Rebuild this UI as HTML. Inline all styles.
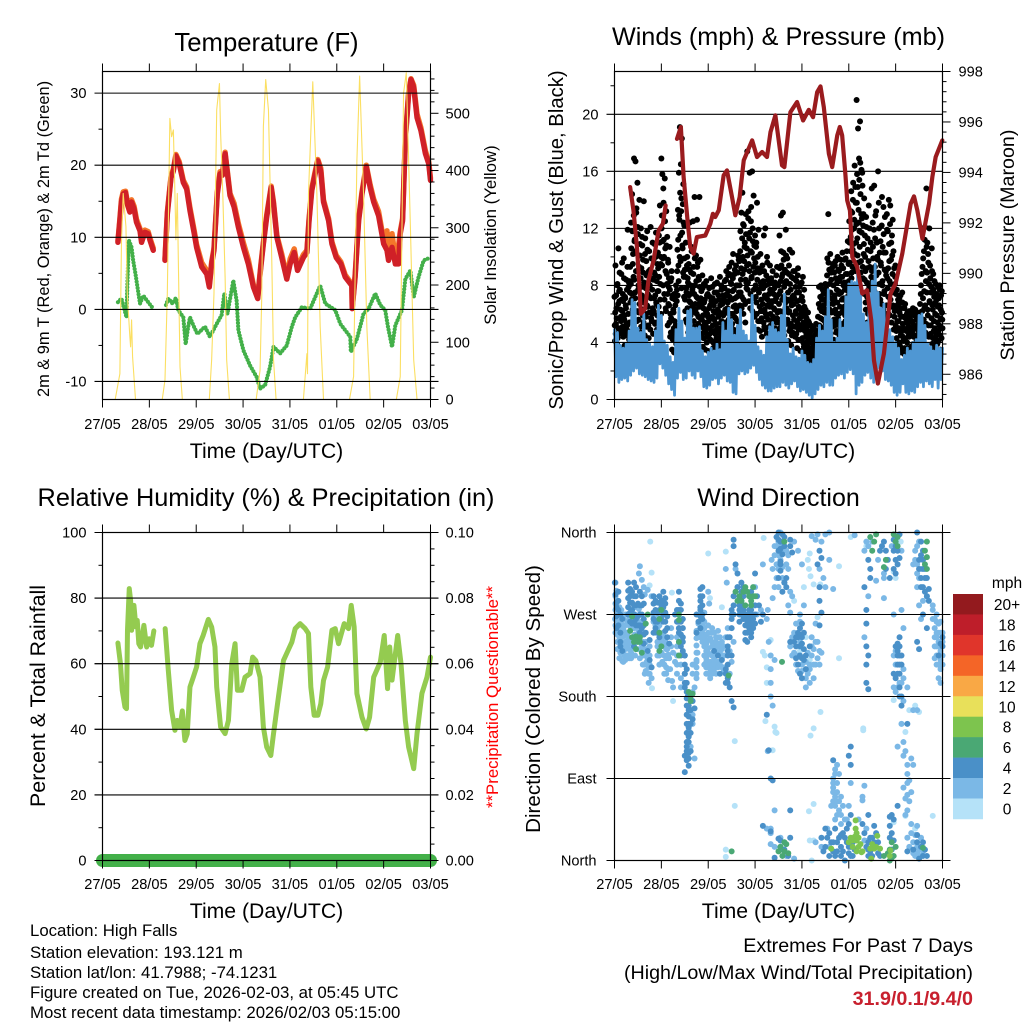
<!DOCTYPE html>
<html lang="en">
<head>
<meta charset="utf-8">
<title>Weather station meteogram</title>
<style>
html,body{margin:0;padding:0;background:#fff;width:1024px;height:1024px;overflow:hidden}
svg{display:block;font-family:"Liberation Sans",Arial,sans-serif;fill:#000}
</style>
</head>
<body>
<svg id="chart" xmlns="http://www.w3.org/2000/svg" width="1024" height="1024" viewBox="0 0 1024 1024">
<rect x="0" y="0" width="1024" height="1024" fill="#fff"/>
<g id="p1"></g>
<g id="p2"></g>
<g id="p3"></g>
<g id="p4"></g>
<g id="legend"></g>

<text x="266.5" y="51" font-size="25.7" text-anchor="middle">Temperature (F)</text>
<text x="778.5" y="45" font-size="25.2" text-anchor="middle">Winds (mph) &amp; Pressure (mb)</text>
<text x="266" y="506" font-size="25.3" text-anchor="middle">Relative Humidity (%) &amp; Precipitation (in)</text>
<text x="778.5" y="506" font-size="25" text-anchor="middle">Wind Direction</text>

<text x="266.5" y="458" font-size="21.2" text-anchor="middle">Time (Day/UTC)</text>
<text x="778.5" y="458" font-size="21.2" text-anchor="middle">Time (Day/UTC)</text>
<text x="266.5" y="918" font-size="21.2" text-anchor="middle">Time (Day/UTC)</text>
<text x="778.5" y="918" font-size="21.2" text-anchor="middle">Time (Day/UTC)</text>

<text transform="translate(49,239) rotate(-90)" font-size="16.4" text-anchor="middle">2m &amp; 9m T (Red, Orange) &amp; 2m Td (Green)</text>
<text transform="translate(496,235) rotate(-90)" font-size="16.8" text-anchor="middle">Solar Insolation (Yellow)</text>
<text transform="translate(563,240) rotate(-90)" font-size="20.3" text-anchor="middle">Sonic/Prop Wind &amp; Gust (Blue, Black)</text>
<text transform="translate(1014,245) rotate(-90)" font-size="19.7" text-anchor="middle">Station Pressure (Maroon)</text>
<text transform="translate(45,696) rotate(-90)" font-size="21.4" text-anchor="middle">Percent &amp; Total Rainfall</text>
<text transform="translate(498,697) rotate(-90)" font-size="16.8" text-anchor="middle" style="fill:#ff0000">**Precipitation Questionable**</text>
<text transform="translate(540,699) rotate(-90)" font-size="20.6" text-anchor="middle">Direction (Colored By Speed)</text>

<g font-size="16.8">
<text x="30" y="936">Location: High Falls</text>
<text x="30" y="958">Station elevation: 193.121 m</text>
<text x="30" y="978">Station lat/lon: 41.7988; -74.1231</text>
<text x="30" y="998">Figure created on Tue, 2026-02-03, at 05:45 UTC</text>
<text x="30" y="1018">Most recent data timestamp: 2026/02/03 05:15:00</text>
</g>
<g font-size="19.7" text-anchor="end">
<text x="973" y="952">Extremes For Past 7 Days</text>
<text x="973" y="979">(High/Low/Max Wind/Total Precipitation)</text>
<text x="973" y="1005" font-weight="bold" style="fill:#c8202e">31.9/0.1/9.4/0</text>
</g>
</svg>
<script>
// ---------- shared axis categories ----------
const dayLabels = ['27/05','28/05','29/05','30/05','31/05','01/05','02/05','03/05'];

// ---------- temperature panel ----------
const tempTicks = [30,20,10,0,-10];
const tempMinorTicks = [25,15,5,-5];
const solarTicks = [500,400,300,200,100,0];
const solarMinorTicks = [20,40,60,80,120,140,160,180,220,240,260,280,320,340,360,380,420,440,460,480,520,540,560];
const tempHours = [7.9,8.9,9.7,10.6,11.8,12.7,14,14.9,16.2,17.4,19.2,20,21.7,23.4,24.3,26,null,32,33.2,35.1,36.3,37.6,39.3,41.4,43.1,44.8,47,48.2,50.8,53.4,54.7,55.9,57.1,58.8,60.2,61.4,62.8,64,65.3,67.4,69.6,72.2,74.7,77.3,79.5,81.1,82.4,84.1,86.4,87.6,89.3,91.8,94.4,96.1,98.2,99.9,102.9,104.7,105.8,107.2,108.9,110.3,111.8,113.2,115.8,117.5,119.7,122.1,124.3,127.7,127.9,129.4,131.2,132.9,135.1,137.1,138.9,141.4,144,145.7,146.5,148.3,150,151.7,152.5,153.7,155.1,156.8,158,159.4,161.1,163.1,165.4,167.1,168];
const temp2m = [9.3,12.3,14.9,16,16.2,14.6,13.5,14.9,13.9,12.1,10.9,9.3,10.7,10.5,9.6,8.2,null,6.8,13.2,18.3,19.2,21.3,20.2,17.6,16.7,13.7,10.5,8.6,5.9,4.9,3.1,6.3,8.2,16,18.8,18.6,21.6,18.8,15.8,14.2,11.4,8.6,6.3,3.1,1.5,5.9,9.1,12.8,16.9,14.6,10,7.2,4.2,6.3,7.9,5.4,7.2,7.9,12.3,16.5,18.8,20.6,19.2,14.9,12.3,9.1,7.2,6.3,4.5,3.3,0.1,4.5,12.3,16,19.8,16.9,14.9,13,9.1,8.2,6.8,8.6,6.3,6.3,10.5,12.3,23.4,29.9,31.9,30.8,26.6,24.8,21.6,20.2,17.9];
const temp9m = [9.5,12.6,15.3,16.3,16.4,15,14.1,15.2,14.3,12.5,11.2,9.6,11,10.8,9.9,8.5,null,7,13.5,18.5,19.5,21.5,20.5,17.9,17,14.1,10.9,9,6.5,5.4,3.4,6.6,8.5,16.3,19.1,18.8,21.8,19.1,16.1,14.7,11.9,9.2,6.9,3.4,1.7,6.2,9.3,13.1,17.1,14.9,10.3,7.7,4.5,7,8.4,5.9,7.6,8.2,12.6,16.8,19.1,20.8,19.6,15.2,12.6,9.4,7.5,6.6,4.8,3.5,0.2,4.8,12.6,16.3,20,17.3,15.3,13.6,9.6,10.9,7.5,10.5,7,9,10.8,12.6,23.7,30.1,32,31.1,27.1,25.2,22,20.5,18.2];
const dewHours = [7.9,9.7,11.1,12.3,12.7,13.5,14.9,15.7,16.9,18.3,19.2,20.9,23.4,26,null,32.5,33.7,35.9,37.6,38.8,41.4,42.6,43.9,44.8,46.5,48.6,52.5,55,58.5,61,62.4,64,67,68.7,69.6,72.2,75.6,79,80.7,83.3,85.8,87.6,91,94.4,97,98.7,102.1,106.4,111.5,114.1,119.2,121.8,126.9,127.2,130.3,133.7,136.3,139.7,142.3,144.8,146.2,148.3,150,153.4,155.1,157.7,159.4,161.9,164.5,168];
const dewPoint = [1,1.5,0.1,-1.1,3.1,9.6,8.6,6.8,4.9,2.4,0.8,1.9,1,0.1,null,0.6,1.5,0.8,1.6,-0.1,-1.1,-4.8,-2.4,-1.1,-2.2,-3.4,-2.4,-3.8,-2,-0.8,2.2,-0.6,4,1.2,-2.9,-5.7,-7.8,-9.4,-11,-10.5,-8,-5.2,-6.1,-5,-2.4,-1.1,0.3,0.1,3.3,0.8,-0.1,-2,-3.8,-5.9,-4.1,-0.6,0.1,2.2,0.6,-0.1,-2.4,-5.2,-2.2,-0.1,4.2,5.4,1.7,4.5,6.8,7.2];
const solarHours = [0,6.5,8.9,9.7,10.6,12,12.7,14,14.4,14.9,15.4,16.9,30.6,32,33.2,34.5,35.4,36.3,37.1,37.6,38.3,39.7,40.9,54.7,55.9,57.1,58.5,59.9,60.5,61.6,62.8,63.6,65,78.7,80.7,81.6,82.4,83.6,85,86.7,87.6,88.9,102.9,104.7,105,105.5,107.7,109.8,111.5,113.2,126.5,128.6,130.3,131.7,133.7,135.4,137.1,150.5,152.5,154.2,155.6,157.7,159.4,161.1,168];
const solarWatts = [0,0,45,273,360,302,185,110,92,139,75,0,0,34,185,491,459,471,360,279,360,57,0,0,69,185,506,552,465,360,214,69,0,0,51,185,477,559,506,244,69,0,0,80,45,360,555,360,127,0,0,40,418,565,360,127,0,0,40,535,571,302,69,0,0];

// ---------- winds panel ----------
const windTicks = [20,16,12,8,4,0];
const windMinorTicks = [22,18,14,10,6,2];
const pressureTicks = [998,996,994,992,990,988,986];
const pressureMinorTicks = [997.6,997.2,996.8,996.4,995.6,995.2,994.8,994.4,993.6,993.2,992.8,992.4,991.6,991.2,990.8,990.4,989.6,989.2,988.8,988.4,987.6,987.2,986.8,986.4,985.6,985.2];
const pressureHours = [8,9.7,11.5,12.8,13.5,15.7,17.4,20,22.6,24.8,26.2,null,32,34,35.4,37.4,38.8,40.5,42.2,46.5,49.1,50.4,51.6,53.4,55.9,57.6,60.2,61.9,64.1,66.2,68.7,70.5,73,75.6,78.1,79.9,82.4,84.1,85.8,87,90.1,93.5,96.6,99.5,101.7,103.8,105.5,107.2,109.8,111.5,114.1,115.4,116.6,118.3,119.2,120.6,121.8,124.3,126.9,129.4,131.5,132.9,134.9,138,141.4,144,147.4,151.7,153.4,155.1,157.7,161.1,162.8,164.5,167.9];
const pressureValues = [993.42,992.5,991.04,989.46,988.4,988.6,989.72,990.51,991.7,991.97,992.69,null,995.33,995.8,993.82,992.1,991.04,990.78,991.44,991.5,991.97,992.36,992.23,992.5,993.88,994.08,993.02,992.3,993.02,994.48,994.94,995.27,994.61,994.81,994.61,995.6,996.26,995.27,994.28,994.21,996.39,996.79,996.06,996.48,996.19,997.18,997.41,996.59,994.74,994.21,995.47,995.8,995.47,993.88,992.89,992.49,990.65,990.25,989.2,989.33,988.14,986.55,985.63,986.82,989.2,989.6,990.78,992.76,993.05,992.5,991.37,992.76,993.82,994.61,995.27];
const gustStepHours = 0.25;
const gustValues = [
7.2,4.1,9.4,5.3,6.4,3.9,8.1,5.0,10.6,4.6,6.9,7.7,3.6,5.8,8.8,4.8,
6.2,7.4,4.4,9.9,5.6,3.8,7.1,6.6,8.4,4.9,5.2,11.9,6.0,7.9,4.2,8.3,
9.3,5.4,12.4,7.0,14.4,6.3,10.2,8.6,16.9,11.1,7.5,16.7,9.0,13.4,5.5,15.2,
11.6,8.0,6.1,14.0,10.1,4.7,12.0,9.2,7.3,10.8,5.9,8.9,13.9,6.8,4.5,11.3,
7.8,9.7,5.1,11.8,6.5,8.2,4.3,10.4,7.2,9.1,12.1,5.7,8.5,6.0,11.0,4.6,
9.8,7.1,10.9,5.3,8.7,11.7,6.7,4.9,9.5,10.3,7.6,11.5,5.6,13.6,8.1,10.0,
16.9,12.9,15.8,9.9,14.8,11.2,7.4,15.5,10.6,6.4,13.2,8.8,11.4,5.2,9.6,7.9,
6.6,10.7,4.4,8.3,5.7,9.0,3.5,7.3,4.8,6.1,3.3,5.5,7.0,4.2,8.0,5.0,
7.7,10.5,13.3,9.4,15.9,12.6,19.1,11.5,16.5,14.1,18.3,10.8,13.7,15.1,8.6,12.2,
9.1,6.2,11.0,7.8,5.4,10.0,8.5,4.7,9.5,6.9,12.4,7.4,5.9,8.9,10.4,6.5,
7.9,12.5,9.3,5.1,14.2,8.0,6.3,10.1,7.2,12.6,4.9,9.6,5.8,8.4,14.2,6.8,
9.8,4.4,7.6,5.6,8.7,3.7,6.4,8.1,4.9,7.0,3.5,5.2,8.3,4.0,6.0,7.4,
3.4,5.5,7.8,4.6,6.6,3.2,8.5,4.1,5.8,7.1,3.6,6.2,4.8,7.5,3.9,5.3,
6.9,4.3,8.2,5.0,3.6,7.3,4.7,6.1,8.6,3.8,5.4,7.7,4.4,6.7,3.4,5.9,
7.0,4.9,8.3,6.3,5.1,9.0,7.4,4.2,6.8,8.7,5.6,9.3,7.2,4.6,6.0,8.1,
9.6,5.3,7.6,10.2,6.5,4.5,8.8,7.1,5.7,9.4,6.2,4.0,8.0,10.1,5.0,7.5,
9.7,6.6,11.8,8.4,13.1,7.2,14.5,10.0,6.0,12.2,9.1,11.0,5.4,13.0,8.2,10.6,
17.4,7.7,12.7,9.5,11.3,15.9,6.4,10.4,13.5,8.6,16.0,12.0,7.1,14.3,9.9,5.8,
11.5,8.0,10.7,6.8,13.8,9.2,4.9,11.9,7.5,8.9,5.5,10.2,6.2,7.9,4.4,9.4,
6.7,8.3,11.5,5.1,7.3,12.0,6.0,8.7,4.6,9.6,7.0,5.6,8.1,3.9,6.5,7.7,
5.2,8.5,4.3,6.9,9.0,5.8,7.4,3.7,6.3,8.2,4.8,7.1,5.4,9.3,6.1,4.2,
8.0,6.7,11.5,5.0,7.6,12.9,9.4,8.6,5.7,13.1,10.3,7.2,4.5,9.1,6.4,11.9,
8.3,5.3,9.9,7.0,4.1,8.8,6.2,10.5,5.0,7.7,3.8,6.6,10.3,4.7,8.5,7.3,
5.6,9.0,4.4,7.9,6.0,8.3,3.6,6.9,9.2,4.9,7.5,5.2,8.0,3.4,6.3,5.8,
7.2,4.3,8.6,5.4,3.7,6.5,4.8,5.9,3.3,4.5,5.1,3.0,4.1,5.5,3.6,2.7,
4.7,3.2,5.2,2.5,4.0,3.5,5.0,2.2,4.4,3.0,4.9,2.0,3.7,5.3,2.8,4.2,
3.3,5.8,4.5,7.9,3.8,6.4,5.1,8.0,4.2,7.0,3.6,5.6,7.4,4.7,6.1,3.9,
8.1,5.3,6.8,4.4,9.9,7.5,13.0,5.0,9.1,6.3,10.2,4.6,8.4,7.1,5.5,9.5,
6.7,4.2,8.9,7.3,5.2,9.7,6.0,4.8,8.2,10.0,5.7,7.6,9.0,4.5,6.5,8.6,
5.1,9.4,7.0,10.3,6.2,8.0,4.9,9.8,7.7,5.5,8.8,6.6,10.4,7.2,11.1,5.9,
8.3,12.5,9.6,6.9,11.4,14.6,8.9,13.1,10.5,15.2,7.8,12.0,16.4,9.2,13.8,11.0,
21.0,15.8,10.1,19.0,13.3,16.9,11.8,19.5,14.4,9.7,16.1,12.7,15.0,8.5,13.0,10.9,
7.4,11.5,9.0,6.3,12.1,8.2,5.4,10.5,7.7,13.6,6.1,9.3,4.7,11.0,8.6,14.8,
6.9,12.4,9.9,5.8,15.0,8.0,11.3,7.1,13.2,6.4,10.0,5.0,16.0,8.9,12.0,7.4,
4.6,11.1,9.4,6.7,14.2,8.3,5.5,13.5,10.3,7.6,12.8,6.0,9.0,4.8,13.0,8.5,
11.8,7.2,14.0,9.7,5.9,13.6,8.1,11.0,6.5,10.1,12.6,7.7,4.9,9.2,6.2,8.6,
5.2,7.4,4.3,6.6,3.6,7.0,5.5,4.0,6.1,3.3,7.3,4.7,5.8,3.5,6.8,4.4,
5.0,3.2,6.4,4.2,5.7,2.9,4.8,6.0,3.6,5.3,2.7,4.5,6.2,3.4,5.6,3.0,
4.9,6.1,3.3,5.4,2.6,4.4,5.9,3.7,6.3,2.9,5.0,4.1,5.7,3.1,6.0,4.6,
3.5,5.2,6.7,4.3,8.0,5.6,3.8,9.3,7.1,5.0,10.4,6.4,12.1,4.7,8.3,14.8,
7.5,11.0,5.9,9.6,4.4,12.0,6.8,8.5,5.2,7.9,10.6,3.9,6.3,8.8,4.8,7.2,
3.6,6.0,8.1,4.5,7.0,3.2,5.4,7.9,4.1,6.6,8.0,3.5,5.7,7.3,4.3,6.1,
5.0];
const gustValuesMid = [
5.2,6.1,4.6,7.3,5.7,8.0,4.3,6.7,5.0,7.6,8.9,4.9,6.3,5.5,7.0,9.6,
5.1,6.9,4.7,8.5,5.9,7.2,4.5,6.4,5.3,7.7,9.3,4.8,6.0,8.2,5.4,7.5,
6.8,8.1,10.6,7.4,11.8,9.5,6.5,12.9,8.4,11.2,7.1,10.4,13.1,9.0,6.2,12.1,
7.7,5.6,9.3,6.7,10.9,8.5,5.1,7.9,11.4,6.3,9.8,5.4,8.2,7.0,10.2,6.0,
5.8,8.7,6.6,10.5,7.4,5.2,9.0,6.1,8.0,4.9,7.1,9.9,5.5,7.7,6.4,8.4,
6.2,8.9,5.4,7.3,10.0,6.8,8.3,5.9,7.6,9.2,6.5,8.6,11.0,7.0,9.5,6.0,
12.0,9.4,11.1,8.0,13.8,10.0,7.0,12.5,9.0,6.2,10.8,8.1,7.4,9.8,6.7,8.5,
5.4,7.7,6.0,4.7,8.5,5.6,7.1,4.2,6.3,5.0,7.4,4.5,6.6,5.2,3.9,6.9,
9.0,7.3,11.2,8.3,12.9,10.0,14.5,9.7,13.2,7.8,11.7,10.6,8.9,12.4,7.2,9.9,
7.0,8.6,5.6,7.5,9.4,6.4,8.2,5.2,7.3,9.1,5.9,6.8,8.0,10.7,6.1,7.7,
6.4,8.8,5.5,7.4,9.9,6.7,5.0,8.3,6.0,9.3,7.1,5.3,8.6,6.5,7.9,5.7,
7.1,5.1,6.5,4.6,7.8,5.9,4.3,6.8,5.4,8.0,4.7,6.2,5.0,7.3,4.4,5.8,
4.5,6.4,5.0,7.2,4.2,5.7,6.9,4.8,7.9,5.2,4.0,6.6,5.6,8.1,4.6,6.1,
5.3,7.5,4.7,6.3,5.8,4.1,7.0,5.0,6.6,4.4,8.0,5.5,6.9,4.9,7.3,5.1,
6.1,7.8,5.4,6.9,8.4,4.8,7.3,6.4,5.0,7.6,6.0,8.8,5.6,7.0,8.2,5.2,
7.0,6.0,8.5,4.9,7.7,5.8,9.1,6.6,4.7,8.0,7.2,5.5,8.9,6.3,9.8,5.4,
8.0,10.4,7.5,9.2,6.4,11.3,8.8,12.3,7.0,9.7,10.7,6.7,8.4,11.6,7.8,9.4,
10.1,8.2,13.2,6.9,9.0,11.7,7.4,12.5,8.5,10.3,6.2,11.1,9.3,7.7,10.8,8.9,
9.6,7.2,11.0,6.0,8.4,10.0,5.5,7.7,9.1,6.5,4.8,8.2,7.0,5.7,9.0,6.2,
7.8,5.4,9.0,6.3,4.9,8.0,7.1,5.8,10.0,6.6,8.4,4.6,7.4,5.1,9.4,6.0,
6.7,4.7,7.6,5.5,8.2,4.4,6.4,7.8,5.0,6.9,4.1,8.7,5.7,7.3,4.8,6.2,
5.4,7.4,9.2,6.2,8.3,10.4,5.1,7.0,8.8,6.0,9.8,7.9,5.6,8.1,6.8,10.1,
6.4,8.9,5.6,7.5,6.1,9.4,4.8,8.1,6.9,5.3,8.6,4.5,7.2,5.9,9.0,6.7,
7.1,5.1,8.4,6.2,4.6,7.5,5.4,8.7,4.2,6.5,7.9,5.7,4.9,7.0,6.0,8.2,
5.0,6.9,4.0,6.0,7.7,5.2,3.5,6.3,4.4,5.7,3.8,4.8,6.1,3.2,5.4,4.2,
3.6,4.4,3.0,4.8,3.4,4.1,2.6,3.8,5.0,3.2,4.5,2.9,4.0,3.5,4.7,3.1,
4.8,3.6,6.7,5.2,4.1,7.2,5.7,3.9,6.2,4.6,7.7,5.0,6.6,4.3,5.5,7.0,
6.3,7.8,4.9,8.7,5.8,7.2,9.6,6.7,8.1,5.4,7.5,8.9,6.1,9.2,5.1,7.0,
8.0,5.6,7.1,9.4,6.3,8.5,4.7,7.7,6.8,5.4,9.1,6.0,7.4,8.3,5.1,9.8,
7.5,6.1,8.6,5.3,9.2,7.1,6.5,8.2,5.9,9.9,6.9,8.0,5.0,8.8,7.6,9.5,
9.6,11.0,7.2,10.4,13.2,8.5,11.9,9.3,14.0,10.9,8.0,12.6,10.2,14.9,9.0,12.3,
13.8,11.3,14.9,9.6,12.4,15.4,10.7,16.6,8.9,13.0,11.7,15.9,9.3,12.2,10.2,14.1,
8.4,10.0,6.8,12.8,9.2,7.2,11.3,6.0,9.7,8.0,12.0,6.5,10.4,7.7,5.5,9.0,
8.3,10.7,6.3,11.9,7.6,9.3,12.9,5.6,8.7,11.0,6.7,9.8,7.1,13.8,8.1,10.3,
7.0,9.6,5.2,12.2,8.0,10.7,6.3,11.6,7.4,9.1,5.7,10.3,8.7,6.6,11.9,7.8,
9.2,6.0,10.9,8.3,12.3,7.0,9.8,5.4,11.5,8.8,6.6,10.4,7.5,5.8,8.1,9.4,
6.3,4.8,7.7,5.5,4.0,6.7,5.0,7.1,3.8,5.9,4.5,6.4,3.6,7.5,5.3,4.1,
4.3,5.8,3.6,6.7,4.9,3.1,5.4,4.0,6.1,3.4,5.1,4.4,3.0,5.9,4.7,3.7,
5.5,3.5,4.8,6.4,3.9,5.2,3.1,4.5,6.0,3.4,5.6,4.2,2.8,4.9,3.7,5.3,
4.6,6.1,3.9,7.4,5.0,8.8,6.2,4.4,9.9,5.6,7.6,11.2,6.6,9.0,5.3,10.7,
8.9,6.3,10.2,5.2,8.1,6.9,9.4,4.6,7.5,5.7,9.0,6.6,4.3,7.7,5.5,8.3,
5.0,6.8,4.2,7.4,5.9,3.9,6.5,4.8,7.1,5.2,7.7,4.5,6.3,5.0,7.6,5.6];
const sonicStepHours = 0.75;
const sonicValues = [
4.9,1.6,4.7,1.2,3.8,1.4,3.6,1.5,3.9,1.3,4.8,1.7,7.0,2.0,6.8,2.2,5.0,1.8,4.7,1.7,6.0,1.6,4.2,1.4,3.9,1.3,3.7,1.2,4.8,1.5,6.6,2.5,
5.9,2.2,4.1,1.7,3.8,1.1,3.0,0.7,2.6,0.3,4.9,1.5,6.4,1.9,5.5,1.4,4.3,1.5,6.2,2.0,6.3,1.7,5.0,1.5,5.0,2.0,5.1,1.6,3.4,0.9,3.0,0.8,
3.3,1.0,3.6,1.4,3.4,1.5,3.9,1.1,3.5,1.5,5.4,1.7,4.8,1.3,6.4,1.2,5.6,0.5,4.5,0.4,5.2,1.8,6.3,2.0,4.8,1.8,4.5,1.9,4.1,2.2,7.3,2.4,
5.2,1.9,3.7,1.4,3.4,1.0,3.1,0.8,4.4,0.6,5.1,0.6,5.4,0.8,4.9,0.9,4.7,0.9,5.9,1.2,7.4,1.0,4.2,0.8,3.2,1.1,3.6,1.3,3.0,0.9,2.9,0.6,
3.4,0.7,3.1,0.5,2.6,0.3,2.5,0.1,2.8,0.4,4.3,0.7,5.2,1.0,4.8,0.9,5.8,1.2,7.7,1.0,5.6,1.0,4.0,1.5,4.3,1.7,5.6,1.8,5.0,1.5,7.2,1.9,
8.1,2.1,8.3,1.8,8.2,0.4,9.0,1.0,7.6,1.2,6.0,1.7,5.4,1.9,7.4,1.5,8.3,1.2,9.5,2.0,7.5,2.2,6.4,2.0,6.7,1.4,5.1,1.3,4.9,1.0,4.4,0.5,
4.0,0.3,3.6,0.5,2.8,1.1,3.1,0.5,3.6,0.4,3.4,0.6,4.0,0.5,4.2,0.9,5.9,1.2,6.0,0.9,5.2,1.3,3.9,1.1,3.7,0.9,3.4,1.4,3.8,0.8,3.6,1.4,
3.6];

// ---------- humidity / precipitation panel ----------
const humidityTicks = [100,80,60,40,20,0];
const humidityGrid = [80,60,40,20];
const humidityMinorTicks = [90,70,50,30,10];
const precipTicks = ['0.10','0.08','0.06','0.04','0.02','0.00'];
const precipMinorTicks = [0.095,0.09,0.085,0.075,0.07,0.065,0.055,0.05,0.045,0.035,0.03,0.025,0.015,0.01,0.005];
const humidityHours = [7.9,9.2,10.1,11.5,12.3,12.8,13.7,14.4,14.9,16.1,17.1,17.8,18.6,19.5,21.2,22.6,23.9,25.1,26.3,null,32.1,33.7,35.4,37.1,38.3,39.7,40.9,42.2,43.4,44.8,46.5,48.2,49.9,51.6,54.2,55.9,57.6,58.5,60.5,62.8,64.5,66.2,67.9,69.1,71.3,73,75.6,76.9,78.5,80.7,82.4,84.1,86.2,87.6,90.1,92.7,94.7,97,98.7,101.2,103.8,105.5,106.7,108.4,110.3,111.8,113.2,115.3,117.5,119.2,120.9,123.8,126,127.4,128.9,130.3,132.9,135.1,136.8,138.9,142.3,144.3,146,147.1,148.3,151.2,152.9,155.1,156.8,159.4,161.1,163.6,166.2,168];
const humidityValues = [66.3,60,51.9,46.8,46.3,70.2,82.9,79.3,70.2,77.8,71.2,73.2,66.1,65.1,71.7,65.1,67.6,65.6,70,null,70.7,58,45.8,39.7,42.7,40.7,45.6,36.6,38.6,52.9,55.9,59,66.1,68.7,73.5,71.2,65.1,52.9,40.7,38.7,42.7,60,66.1,51.9,51.9,55.9,57,62,61,55.9,40.7,34.6,32,38.7,49.8,61,63.6,66.6,70.7,72.2,70.7,69.2,52.9,44.3,44.3,47.8,54.9,59,70.2,70.7,66.1,72.2,70.7,77.8,71.2,50.9,43.7,40.1,43.7,55.9,60.5,68.6,52.4,65.1,55,68.6,60,42.7,34.6,28,38.7,50.9,55.9,62];
const precipHours = [0,168];
const precipValues = [0,0];

// ---------- wind direction panel: [hour, degrees, hour, degrees, ...] per speed class ----------
const dirLabels = ['North','East','South','West','North'];
const dirTicks = [0,90,180,270,360];
const dirSpeed0 = [18.3,350,48,337,57,339,61.6,131,61.6,60,57,12,57,4,76.4,354,77.3,153,82.4,141,81,121,29.4,294,30,175,19.2,189,1.2,249,18,302,48.9,288,55,278,100,337,99,330,99.6,320,100.4,312,102,303,105.4,303,115,323,121,355,115,222,102,145,100.4,137,105.5,163,127.4,145,127.4,143,99.6,54,102,62,100,22,102,22,101,0,143,317,144,310,146.6,350,129,345,143,176,151,165,149,141,147,150,149,49,143,42,154,35,163,49,156,163,154,170,104,267,105,258,76,229,77,225,80,242,78,212,83,140,82,147,78,195,95,230,98,245,97,300,100,220,92,285,19,316,3,250];
const dirSpeed2 = [0.5,305,1,296,1.5,285,2,272,0.3,265,1.5,262,3,268,4,258,2.5,255,3.5,245,2,240,4.5,238,3,228,5,225,4,219,6,250,7,243,8,232,9,238,7.5,222,6.5,262,5.5,270,9,270,10,255,11,248,12,232,12,262,13,222,14,237,15,215,16,208,16,240,17,222,18,205,19,200,15.5,292,14,308,15,300,13,323,17,297,19,290,12.5,315,21,262,22,240,23,270,24,228,25,250,26,240,27,232,28,222,29,235,30,228,28.5,210,29.5,197,30,190,26,240,31,218,32,245,33,255,41,190,42,200,43,260,44,245,42.5,228,42,218,40,150,39,125,38,143,39.5,160,38,168,40,175,41,112,46,272,47,240,48,233,47,222,49,210,50,235,51,222,52,245,50,250,52,215,53,228,54,238,55,222,56,212,57,245,58,255,59,230,60,218,59,205,61,240,47,225,48.5,282,48,295,57,320,57.5,305,62,320,63,300,64,285,66,275,70,265,73,270,75,275,72,300,76,325,78,265,78.5,275,80,195,80,180,81,170,78.5,120,79,240,82,220,80,210,80,225,81,288,84,300,82,300,83,310,80.5,330,85,330,86,340,83,355,84,350,82,345,85,345,81,320,84,320,86,310,88,325,90,295,89,280,90,272,91,290,95,270,93,260,95,240,92,250,94,225,96,215,98,218,99,228,100,210,102,200,103,215,105,230,106,228,104,240,101,245,103,260,95,262,97,280,82,55,80,35,80,30,78,35,85,25,82,15,80,18,88,5,92,2,103,20,106,15,110,15,109,35,111,60,113,95,112,85,114,75,116,70,112,65,114,50,113,45,116,40,120,60,119,45,121,85,127,70,128,82,129,35,127,66,125,45,130,22,128,22,103,352,104,358,108,358,110,360,101,356,106,350,105,320,107,310,110,330,108,300,112,298,123,357,128,340,132,350,135,330,138,310,138,315,134,307,138,288,143,270,147,275,148,255,144,215,146,195,143,190,148,175,150,190,153,165,155,165,147,150,145,125,148,115,153,105,152,112,150,85,148,80,152,75,151,65,150,55,149,50,152,40,155,38,157,25,155,15,158,10,154,5,154,330,155,325,157,320,156,310,155,300,158,285,156,280,157,265,160,290,163,275,163,265,164,255,165,245,166,240,167,230,164,235,165,225,166,215,167,250,167,210,168,240,166,260,165,270,164,222,166,200,167,195,168,225,165,250,163,280,
83,345,82,335,85,360,86,350,88,340,89,335,89,320,83,325,84,335,86,322,92,350,94,340,96,325,91,245,92,228,90,235,91,225,93,215,94,208,96,208,98,200,99,205,100,215,101,225,102,232,103,240,101,235,104,222,105,215,102,215,100,195,98,190,112,90,112,80,113,70,113,60,114,85,115,65,115,55,116,50,117,60,118,45,113,100,114,105,115,95,112,75,114,65,152,30,153,20,154,28,155,8,156,12,157,5,153,8,151,15,150,25,142,345,147,340,155,345,154,340,156,350,155,315,153,325,130,345,129,350,130,290,128,245,143,225,144,230,145,190,148,200,148,210,144,185,147,195,148,130,149,120,150,105,150,95,151,88,150,72,149,68,165,235,166,235,167,240,166,250,167,220,165,215,164,245,168,215,168,250,164,265,165,262,167,262];
const dirSpeed4 = [0.2,305,0.5,292,2,275,3,270,1,283,9,295,10,290,9,275,8,283,11,280,13,280,14,290,13,270,15,282,14,255,12,258,11,245,10,262,10,235,13,250,15,265,16,250,18,242,17,230,18,220,19,212,20,250,21,275,22,262,24,280,22,272,26,282,25,262,26,252,27,245,28,238,31,270,32,275,32,262,33,255,34,248,33,240,35,230,36,225,37,210,36,205,37,195,36,190,37.5,180,38,170,38,150,40,175,41,167,40,155,39,140,38,130,37,125,38,112,37,110,36,115,36,97,42,270,44,278,43,262,44,255,45,280,45,290,42,250,51,230,53,225,54,205,55,220,58,230,59,245,60,255,60,225,59,190,60,175,61,168,61,352,61,345,62,325,63,315,63,300,64,290,64.5,280,66,275,67,270,68,260,66,265,70,295,72,315,73,290,74,280,76,270,75,262,70,250,68,240,83,355,85,350,84,340,85,325,86,295,87,305,88,300,90,240,96,260,97,250,95,235,97,220,98,225,95,205,100,235,96,200,89,5,87,12,85,22,84,24,86,12,90,25,90,55,85,15,82,3,76,38,80,32,78,160,79,121,81,88,80,90,105,340,106,332,104,325,105,300,105,285,106,272,105,258,108,35,106,25,110,30,112,20,113,35,114,10,115,25,116,5,117,30,118,0,120,40,121,50,120,15,122,20,121,5,120,115,121,105,112,110,121,125,127,40,128,30,130,20,131,10,133,38,132,25,134,15,136,5,130,50,143,45,142,30,143,22,142,50,145,60,150,10,153,12,155,20,156,2,157,15,160,5,129,215,129,195,130,225,129,260,128,300,130,330,131,320,131,310,129,275,130,188,129,235,139,340,140,330,139,320,141,310,138,350,137,345,136,340,144,235,145,225,145,215,143,205,146,205,144,200,146,190,147,180,145,238,146,245,155,240,156,232,150,150,155,360,157,350,158,340,156,330,159,320,160,310,158,300,161,285,159,295,158,270,160,255,168,235,166,225,94,245,95,255,96,245,
84,360,84,352,85,342,86,358,87,355,87,345,86,336,85,328,85,318,84,310,87,305,88,310,90,352,90,345,91,338,92,240,93,235,94,250,93,222,95,225,96,238,94,215,97,232,98,210,95,248,93,245,96,222,107,10,108,15,109,25,110,5,111,20,112,10,113,5,114,20,116,15,117,10,119,20,120,8,121,15,122,5,123,12,119,35,118,25,116,28,129,15,130,5,131,25,132,5,133,20,134,30,135,8,135,20,130,12,141,25,141,38,141,48,142,12,158,5,158,20,159,12,155,28,143,340,144,330,145,325,143,320,144,315,146,332,145,340,144,345,146,358,143,352,156,320,157,310,158,320,157,335,158,330,159,310,157,300,160,290,161,298,146,215,146,225,145,230,147,215,146,235,147,225,145,205,146,180,147,170,167,238,168,245];
const dirColumns2 = [[0.5,250,258,275,282,290],[1.5,232,240,248,255,270],[2.5,222,232,245,262,278],[3.5,228,236,252,260,275],[4.5,218,228,246,254,266],[5.5,220,232,240,258],[6.5,225,235,248,270],[7.5,232,240,258,265],[8.5,222,228,255],[10.5,225,248,270,278],[11.5,240,255,268],[12.5,244,252,276],[13.5,232,262],[14.5,215,225,240,250],[15.5,205,215,225,232],[16.5,218,232],[17.5,195,205,212],[18,215,225,235],[20,262,268],[21,250,258,268],[22,225,235,255],[23,215,225,240,258],[24.5,218,240],[25.5,205,215,225,235,245],[26.5,205,212,222,232],[27.5,198,210,226],[29,245,255],[32,205,215,225,235],[34,190,200,215],[40,160,185,205,215],[42,205,212,220,228,236,244,252],[44,248,256,262,270,278],[45,240,250,258],[46,215,225,235,245,255,262],[47,205,212,218,230,238,248],[48,205,215,228,242,250,258],[49,200,218,226,244],[50,205,215,225,240,255],[51,210,216,238,250],[52,205,225,232,240],[53,212,218,235,245,252],[54,215,228,245],[55,212,232,240],[56,208,225,235]];
const dirColumns4 = [[1,255,268,278],[2,258,285,295],[3,235,240,250],[4,230,265],[7,270,278,288,296,305],[8,262,272,290,298],[9,260,283],[10,270,280,305],[11,258,265,290,300],[12,268,282],[13,258,295],[14,270,280],[15,238,248,258],[20,265,272,282,290],[21,255,262,285],[22,250,283],[23,245,275,290],[24,265,285],[25,270,278,285,295],[26,262,272,288],[27,255,268],[33,295,285,275,262,250],[34,225,235,262,275,282],[35,265,255,245,240],[36,225,215,205,195],[37,185,178,170,160,150,140,130,120],[38,165,158,146,136,118,104],[39,150,165,120],[44,268,275,285,290,298],[45,270,265,300],[58,245,235,225,215,200,195],[57,205,195,210],[60,265,270,275],[61,290,280,270],[64,275,280,270,262],[65,295,305,285,270],[66,280,290,300],[67,265,258,250,242],[68,250,270],[69,255,265,275],[70,270,275,260,245],[71,265,255],[72,270,260,280]];
const dirSpeed6 = [9,268,8,252,9,245,10,240,11,246,13,240,13,245,12,240,14,228,11,232,17,270,16,260,24,275,23,265,23,250,24,235,23,230,62,295,63,285,64,290,67,300,68,295,69,290,70,285,70,280,71,290,71,300,72,290,67,280,65,285,66,295,58.5,203,39,175,38,185,40,183,39,180,60,10,85,15,87,10,89,8,87,20,84,10,86,5,88,18,87,350,85.8,218,132,340,134,358,131,355,133,350,145,355,145,345,143,358,144,350,138,322,139,330,160,350,159,340,160,333,159,325,160,320,138,5,140,8,141,12,142,3,143,5,144,15,142,20,141,0,158,14,33,225,33,240,33,264,33,270];
const dirSpeed8 = [111,13,123.5,44,123.5,35,124,30,123,26,122,22,124,22,126,18,125,15,122,15,120,20,125,25,121,25,124,10,127,10,134.6,27,132,18,133,13,131,13,134,15,136,13,131.5,2,126.5,9,141.4,11,141,5];
const legendLabels = ['20+','18','16','14','12','10','8','6','4','2','0'];

// ---------- panel frames and scales ----------
const P1 = {left:102.5, right:430.5, top:71.5, bottom:399.5};
const P2 = {left:614.5, right:942.5, top:71.5, bottom:399.5};
const P3 = {left:102.5, right:430.5, top:532.5, bottom:860.5};
const P4 = {left:614.5, right:942.5, top:532.5, bottom:860.5};
const NS = 'http://www.w3.org/2000/svg';

function xAxis(p){ return h => p.left + (h/168)*(p.right-p.left); }
function yAxis(p,lo,hi){ return v => p.bottom - ((v-lo)/(hi-lo))*(p.bottom-p.top); }
function make(parent,tag,attrs){
  const el = document.createElementNS(NS,tag);
  for(const k in attrs) el.setAttribute(k,attrs[k]);
  parent.appendChild(el);
  return el;
}
function segmentLine(parent,x,y,xs,ys,name,attrs){
  let d='', pen=false;
  for(let i=0;i<xs.length;i++){
    if(xs[i]===null||ys[i]===null){pen=false;continue;}
    d += (pen?'L':'M') + x(xs[i]).toFixed(2) + ' ' + y(ys[i]).toFixed(2);
    pen=true;
  }
  const el = make(parent,'path',Object.assign({d:d,fill:'none','stroke-linejoin':'round','stroke-linecap':'round'},attrs));
  
  
  return el;
}
function hLine(parent,x1,x2,y,w,name){
  const el = make(parent,'line',{x1:x1,x2:x2,y1:y,y2:y,stroke:'#000','stroke-width':w});
  
  
  return el;
}
function vLine(parent,x,y1,y2,name){
  const el = make(parent,'line',{x1:x,x2:x,y1:y1,y2:y2,stroke:'#000','stroke-width':1});
  
  
  return el;
}
function label(parent,x,y,anchor,str,name,size){
  const el = make(parent,'text',{x:x,y:y,'text-anchor':anchor,'font-size':size||14.6});
  el.textContent = str;
  
  
  return el;
}
function frame(parent,p){
  const el = make(parent,'rect',{x:p.left,y:p.top,width:p.right-p.left,height:p.bottom-p.top,fill:'none',stroke:'#000','stroke-width':1.2});
  
  
}
function timeAxis(parent,p,labelY){
  const x = xAxis(p);
  dayLabels.forEach((d,i)=>{
    const px = x(i*24);
    vLine(parent,px,p.top-8,p.top,'x-tick-top');
    vLine(parent,px,p.bottom,p.bottom+8,'x-tick-bottom');
    label(parent,px,labelY,'middle',d,'x-tick-label');
  });
}

// ---------- temperature ----------
(function(){
  const g = document.getElementById('p1'), p = P1;
  const x = xAxis(p), y = yAxis(p,-12.5,33), yS = yAxis(p,0,573);
  segmentLine(g,x,y,tempHours,temp9m,'temperature-9m-line',{stroke:'#f4762a','stroke-width':5.4});
  segmentLine(g,x,y,tempHours,temp2m,'temperature-2m-line',{stroke:'#d02027','stroke-width':5.4});
  segmentLine(g,x,y,dewHours,dewPoint,'dew-point-dots',{stroke:'#43b049','stroke-width':4.2,'stroke-dasharray':'0 3.2'});
  segmentLine(g,x,yS,solarHours,solarWatts,'solar-insolation-line',{stroke:'#fbdf62','stroke-width':1.1});
  tempTicks.forEach(v=>{
    hLine(g,p.left-8,p.right+8,y(v),1.1,'temperature-gridline');
    label(g,p.left-16,y(v)+5,'end',String(v),'temperature-tick-label');
  });
  tempMinorTicks.forEach(v=>{ hLine(g,p.left-4,p.left,y(v),1,'temperature-minor-tick'); });
  solarTicks.forEach(v=>{
    hLine(g,p.right,p.right+8,yS(v),1,'solar-major-tick');
    label(g,p.right+15,yS(v)+5,'start',String(v),'solar-tick-label');
  });
  solarMinorTicks.forEach(v=>{ hLine(g,p.right,p.right+4,yS(v),1,'solar-minor-tick'); });
  timeAxis(g,p,429);
  frame(g,p);
})();

// ---------- winds ----------
(function(){
  const g = document.getElementById('p2'), p = P2;
  const x = xAxis(p), y = yAxis(p,0,23), yP = yAxis(p,985,998);
  gustValues.forEach((v,i)=>{
    const c = make(g,'circle',{cx:x(i*gustStepHours).toFixed(2),cy:y(v).toFixed(2),r:3,fill:'#000'});
    
    
  });
  gustValuesMid.forEach((v,i)=>{
    const c = make(g,'circle',{cx:x((i+0.5)*gustStepHours).toFixed(2),cy:y(v).toFixed(2),r:3,fill:'#000'});
    
    
  });
  const sonicHours = sonicValues.map((v,i)=>i*sonicStepHours);
  segmentLine(g,x,y,sonicHours,sonicValues,'sonic-wind-line',{stroke:'#4f97d3','stroke-width':2.8});
  windTicks.forEach(v=>{
    hLine(g,p.left-8,p.right,y(v),1.1,'wind-gridline');
    label(g,p.left-16,y(v)+5,'end',String(v),'wind-tick-label');
  });
  windMinorTicks.forEach(v=>{ hLine(g,p.left-4,p.left,y(v),1,'wind-minor-tick'); });
  segmentLine(g,x,yP,pressureHours,pressureValues,'pressure-line',{stroke:'#9a1b1e','stroke-width':4.2});
  pressureTicks.forEach(v=>{
    hLine(g,p.right,p.right+8,yP(v),1,'pressure-major-tick');
    label(g,p.right+16,yP(v)+5,'start',String(v),'pressure-tick-label');
  });
  pressureMinorTicks.forEach(v=>{ hLine(g,p.right,p.right+4,yP(v),1,'pressure-minor-tick'); });
  timeAxis(g,p,429);
  frame(g,p);
})();

// ---------- humidity ----------
(function(){
  const g = document.getElementById('p3'), p = P3;
  const x = xAxis(p), y = yAxis(p,0,100), yR = yAxis(p,0,0.1);
  segmentLine(g,x,y,humidityHours,humidityValues,'relative-humidity-line',{stroke:'#94cb50','stroke-width':5});
  segmentLine(g,x,yR,precipHours,precipValues,'precipitation-line',{stroke:'#43b049','stroke-width':13});
  humidityGrid.forEach(v=>{ hLine(g,p.left-8,p.right+8,y(v),1.1,'humidity-gridline'); });
  humidityTicks.forEach(v=>{
    hLine(g,p.left-8,p.left,y(v),1,'humidity-major-tick');
    label(g,p.left-16,y(v)+5,'end',String(v),'humidity-tick-label');
  });
  humidityMinorTicks.forEach(v=>{ hLine(g,p.left-4,p.left,y(v),1,'humidity-minor-tick'); });
  precipTicks.forEach(s=>{
    const v = parseFloat(s);
    hLine(g,p.right,p.right+8,yR(v),1,'precip-major-tick');
    label(g,p.right+15,yR(v)+5,'start',s,'precip-tick-label');
  });
  precipMinorTicks.forEach(v=>{ hLine(g,p.right,p.right+4,yR(v),1,'precip-minor-tick'); });
  timeAxis(g,p,889);
  frame(g,p);
})();

// ---------- wind direction ----------
(function(){
  const g = document.getElementById('p4'), p = P4;
  const x = xAxis(p), y = yAxis(p,0,360);
  function dot(h,deg,color){
    const c = make(g,'circle',{cx:x(h).toFixed(2),cy:y(deg).toFixed(2),r:3,fill:color});
    
    
  }
  function flat(arr,color){ for(let i=0;i+1<arr.length;i+=2) dot(arr[i],arr[i+1],color); }
  function columns(arr,color){ arr.forEach(col=>{ for(let i=1;i<col.length;i++) dot(col[0],col[i],color); }); }
  flat(dirSpeed0,'#b5e2f8');
  flat(dirSpeed2,'#7bb8e6');
  columns(dirColumns2,'#7bb8e6');
  flat(dirSpeed4,'#4a90c8');
  columns(dirColumns4,'#4a90c8');
  flat(dirSpeed6,'#4aa874');
  flat(dirSpeed8,'#7dc44e');
  dirTicks.forEach((v,i)=>{
    hLine(g,p.left-8,p.right+8,y(v),1.1,'direction-gridline');
    label(g,p.left-18,y(v)+5,'end',dirLabels[i],'direction-tick-label');
  });
  timeAxis(g,p,889);
  frame(g,p);
})();

// ---------- colour legend ----------
(function(){
  const g = document.getElementById('legend');
  const colors = ['#931a1e','#be1e2a','#e0352b','#f46527','#f9a845','#e8e05a','#7dc44e','#4aa874','#4a90c8','#7bb8e6','#b5e2f8'];
  label(g,1007,588,'middle','mph','legend-unit',15.5);
  legendLabels.forEach((s,i)=>{
    const top = 594 + i*20.45;
    const r = make(g,'rect',{x:953,y:top.toFixed(2),width:30,height:20.75,fill:colors[i]});
    
    
    label(g,1007,top+16,'middle',s,'legend-label',15.5);
  });
})();
</script>
</body>
</html>
